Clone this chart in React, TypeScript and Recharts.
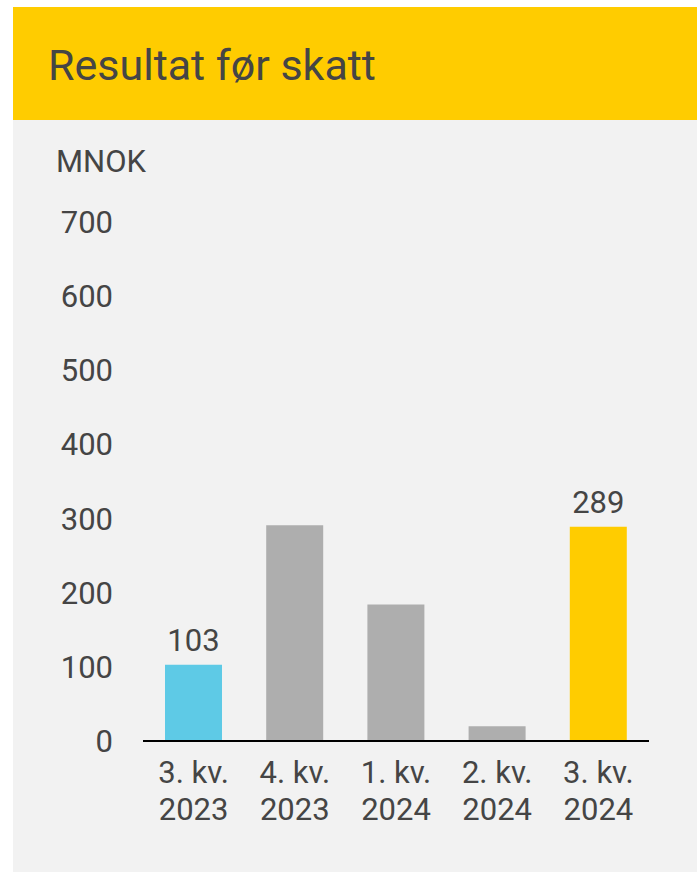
import React from "react";
import { BarChart, Bar, XAxis, YAxis, Cell, LabelList } from "recharts";

const quarters = ["3. kv.", "4. kv.", "1. kv.", "2. kv.", "3. kv."];
const years = ["2023", "2023", "2024", "2024", "2024"];
const values = [103, 291, 184, 20, 289];
const barColors = ["#5ECAE6", "#AEAEAE", "#AEAEAE", "#AEAEAE", "#FFCC00"];
const showValue = [true, false, false, false, true];
const yTicks = [0, 100, 200, 300, 400, 500, 600, 700];

const title = "Resultat før skatt";
const unit = "MNOK";

const data = quarters.map((q, i) => ({
  q,
  year: years[i],
  value: values[i],
  idx: i,
}));

const FONT = "Roboto, 'Open Sans', sans-serif";
const TEXT = "#454545";

const XTick = (props: any) => {
  const { x, y, payload } = props;
  const i = payload.index;
  return (
    <g>
      <text x={x} y={y + 42} textAnchor="middle" fill={TEXT} fontSize={31} fontFamily={FONT}>
        {quarters[i]}
      </text>
      <text x={x} y={y + 79} textAnchor="middle" fill={TEXT} fontSize={31} fontFamily={FONT}>
        {years[i]}
      </text>
    </g>
  );
};

const ValueLabel = (props: any) => {
  const { x, y, width, value, index } = props;
  if (!showValue[index]) return null;
  return (
    <text
      x={x + width / 2}
      y={y - 14}
      textAnchor="middle"
      fill={TEXT}
      fontSize={31}
      fontFamily={FONT}
    >
      {value}
    </text>
  );
};

export default function App() {
  return (
    <div style={{ position: "fixed", left: 0, top: 0, width: 697, height: 872, background: "#fff", overflow: "hidden" }}>
      <div style={{ position: "absolute", left: 13, top: 7, width: 684, height: 865, background: "#F2F2F2" }} />
      <div style={{ position: "absolute", left: 13, top: 7, width: 684, height: 113, background: "#FFCC00" }} />
      <svg style={{ position: "absolute", left: 0, top: 0 }} width={697} height={200}>
        <text x={48} y={80} fill={TEXT} fontSize={43} fontFamily={FONT}>
          {title}
        </text>
        <text x={56} y={172} fill={TEXT} fontSize={31} fontFamily={FONT}>
          {unit}
        </text>
      </svg>
      <div style={{ position: "absolute", left: 13, top: 120 }}>
        <BarChart
          width={684}
          height={752}
          data={data}
          margin={{ top: 102, right: 48, bottom: 0, left: 0 }}
        >
          <YAxis
            type="number"
            domain={[0, 700]}
            ticks={yTicks}
            interval={0}
            width={130}
            axisLine={false}
            tickLine={false}
            tickSize={0}
            tickMargin={30}
            tick={{ fill: TEXT, fontSize: 31, fontFamily: FONT }}
          />
          <XAxis
            dataKey="idx"
            type="category"
            height={131}
            interval={0}
            tickLine={false}
            tickSize={0}
            tickMargin={0}
            axisLine={{ stroke: "#000", strokeWidth: 2 }}
            tick={<XTick />}
          />
          <Bar dataKey="value" barSize={57} isAnimationActive={false}>
            {data.map((d, i) => (
              <Cell key={i} fill={barColors[i]} />
            ))}
            <LabelList dataKey="value" content={<ValueLabel />} />
          </Bar>
        </BarChart>
      </div>
    </div>
  );
}
